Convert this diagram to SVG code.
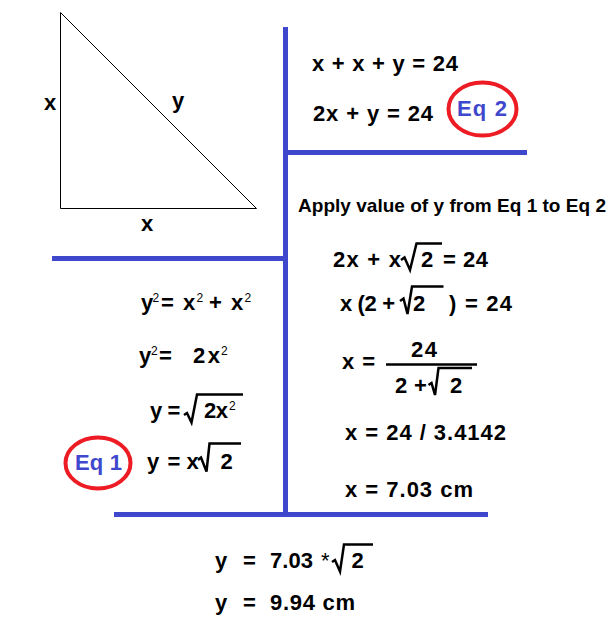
<svg xmlns="http://www.w3.org/2000/svg" width="616" height="632" viewBox="0 0 616 632">
<style>
text{font-family:"Liberation Sans",Arial,sans-serif;font-weight:bold;font-size:22px;fill:#000}
.lbl{font-size:22px}
.sm{font-size:19px}
.sup{font-size:12px;font-weight:normal}
.ast{font-weight:normal}
.blue{fill:#3F48CC;font-size:22px}
.div{stroke:#3F48CC;stroke-width:5;fill:none}
.sq{stroke:#000;stroke-width:2.5;fill:none;stroke-linejoin:miter}
.ring{stroke:#ED1C24;stroke-width:4;fill:none}
</style>
<rect width="616" height="632" fill="#fff"/>
<g id="dividers">
<line class="div" x1="285.5" y1="27" x2="285.5" y2="515"/>
<line class="div" x1="285" y1="152.5" x2="527" y2="152.5"/>
<line class="div" x1="52" y1="258.5" x2="286" y2="258.5"/>
<line class="div" x1="114" y1="514.5" x2="488" y2="514.5"/>
</g>
<g id="triangle">
<polygon points="60.5,12.5 60.5,208.5 256.5,208.5" fill="none" stroke="#000" stroke-width="1"/>
<text class="lbl" x="44" y="110">x</text>
<text class="lbl" x="172" y="108">y</text>
<text class="lbl" x="141" y="231">x</text>
</g>
<g id="eq2">
<text x="312" y="71" textLength="146" lengthAdjust="spacing">x + x + y = 24</text>
<text x="313" y="121" textLength="120" lengthAdjust="spacing">2x + y = 24</text>
<ellipse class="ring" cx="482.5" cy="109" rx="34" ry="26.5"/>
<text class="blue" x="457" y="116" textLength="50" lengthAdjust="spacing">Eq 2</text>
</g>
<g id="substitution">
<text class="sm" x="298" y="212" textLength="308" lengthAdjust="spacing">Apply value of y from Eq 1 to Eq 2</text>
<text x="333" y="267" textLength="68" lengthAdjust="spacing">2x + x</text>
<path class="sq" d="M401,260 L404.5,257.5 L410,270 L416.5,243.5 L442,243.5"/>
<text x="421" y="267">2</text>
<text x="443" y="267" textLength="45" lengthAdjust="spacing">= 24</text>
<text x="340" y="311" textLength="55" lengthAdjust="spacing">x (2 +</text>
<path class="sq" d="M400,301 L403.5,298.5 L407.5,314 L412,286.5 L443.5,286.5"/>
<text x="413" y="311">2</text>
<text x="449" y="311">)</text>
<text x="465" y="311" textLength="47" lengthAdjust="spacing">= 24</text>
<text x="342" y="369" textLength="33" lengthAdjust="spacing">x =</text>
<text x="411" y="357" textLength="26" lengthAdjust="spacing">24</text>
<line x1="386" y1="364.5" x2="477" y2="364.5" stroke="#000" stroke-width="2.5"/>
<text x="395" y="393">2</text>
<text x="414" y="393">+</text>
<path class="sq" d="M428.5,385 L431.5,383 L435,395 L438.5,368 L472,368"/>
<text x="450" y="393">2</text>
<text x="345" y="440" textLength="161" lengthAdjust="spacing">x = 24 / 3.4142</text>
<text x="345" y="497" textLength="128" lengthAdjust="spacing">x = 7.03 cm</text>
</g>
<g id="eq1">
<text x="141" y="310">y</text>
<text class="sup" x="152.5" y="302">2</text>
<text x="161" y="310">=</text>
<text x="183" y="310">x</text>
<text class="sup" x="196.5" y="302">2</text>
<text x="209" y="310">+</text>
<text x="231" y="310">x</text>
<text class="sup" x="244.5" y="302">2</text>
<text x="139" y="363">y</text>
<text class="sup" x="151" y="355">2</text>
<text x="159" y="363">=</text>
<text x="193" y="363" textLength="27" lengthAdjust="spacing">2x</text>
<text class="sup" x="221" y="355">2</text>
<text x="150" y="418">y</text>
<text x="167.5" y="418">=</text>
<path class="sq" d="M184,415 L187,413 L191.5,422.5 L197,394.5 L243,394.5"/>
<text x="204" y="418" textLength="24" lengthAdjust="spacing">2x</text>
<text class="sup" x="229" y="410">2</text>
<ellipse class="ring" cx="98" cy="463" rx="32.5" ry="25.5"/>
<text class="blue" x="75" y="470" textLength="47" lengthAdjust="spacing">Eq 1</text>
<text x="147" y="469">y</text>
<text x="167.5" y="469">=</text>
<text x="186.5" y="469">x</text>
<path class="sq" d="M198,460 L201,457.5 L206.5,471.5 L209.5,443.5 L241,443.5"/>
<text x="220.5" y="469">2</text>
</g>
<g id="result">
<text x="215" y="568">y</text>
<text x="243" y="568">=</text>
<text x="270" y="568" textLength="43" lengthAdjust="spacing">7.03</text>
<text class="ast" x="321" y="568">*</text>
<path class="sq" d="M332,562 L335,560 L340,571.5 L344,544.5 L373,544.5"/>
<text x="351.5" y="568">2</text>
<text x="215" y="610">y</text>
<text x="243" y="610">=</text>
<text x="270" y="610" textLength="85" lengthAdjust="spacing">9.94 cm</text>
</g>
</svg>
